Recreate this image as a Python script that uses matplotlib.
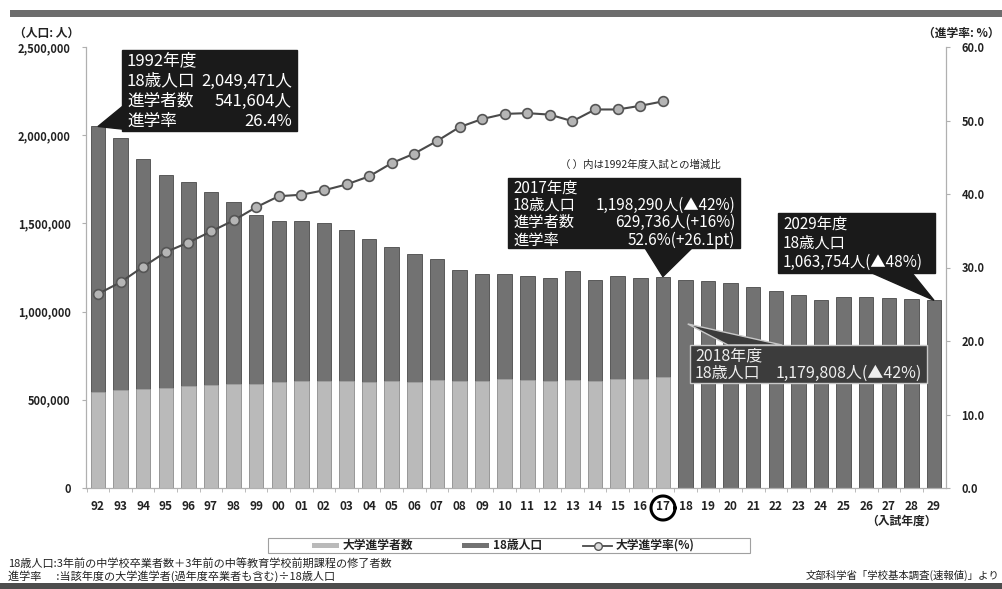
import matplotlib
matplotlib.use('Agg')
import matplotlib.pyplot as plt
import numpy as np
from matplotlib.patches import Polygon, Rectangle
from matplotlib.lines import Line2D

plt.rcParams['font.family'] = ['Noto Sans CJK JP', 'DejaVu Sans']

# 入試年度 (1992-2029)
years = ['92', '93', '94', '95', '96', '97', '98', '99', '00', '01',
         '02', '03', '04', '05', '06', '07', '08', '09', '10', '11',
         '12', '13', '14', '15', '16', '17', '18', '19', '20', '21',
         '22', '23', '24', '25', '26', '27', '28', '29']

# 18歳人口
pop18 = [2049471, 1981503, 1863870, 1773712, 1732437, 1680006, 1622198, 1545270,
         1510994, 1511845, 1502711, 1464760, 1410403, 1365471, 1325208, 1299571,
         1237294, 1211390, 1215843, 1202016, 1191357, 1230974, 1180838, 1199881,
         1190540, 1198290, 1179808, 1172000, 1160000, 1137000, 1114000, 1093000,
         1063000, 1084000, 1084000, 1076000, 1071000, 1063754]

# 大学進学者数 (1992-2017)
entrants = [541604, 554973, 560815, 568576, 579148, 586688, 590743, 589559,
            599655, 603953, 609337, 604785, 598331, 603760, 603054, 613613,
            607159, 608731, 619119, 612858, 605390, 614183, 608247, 617507,
            618423, 629736]

# 大学進学率 (%)
rate = [26.4, 28.0, 30.1, 32.1, 33.4, 34.9, 36.4, 38.2, 39.7, 39.9,
        40.5, 41.3, 42.4, 44.2, 45.5, 47.2, 49.1, 50.2, 50.9, 51.0,
        50.8, 49.9, 51.5, 51.5, 52.0, 52.6]

W, H = 1002, 589
fig = plt.figure(figsize=(W / 100, H / 100), dpi=100)
fig.patch.set_facecolor('white')
ax = fig.add_axes([86 / W, 1 - 488 / H, (946 - 86) / W, (488 - 47) / H])
ax2 = ax.twinx()


def px(x, y):
    """pixel (from top-left) -> figure fraction"""
    return (x / W, 1 - y / H)


def data_to_fig(a, x, y):
    d = a.transData.transform((x, y))
    return tuple(fig.transFigure.inverted().transform(d))


dark = '#727272'
light = '#bababa'
line_c = '#4a4a4a'
txt_c = '#222222'
xs = list(range(len(years)))
ax.bar(xs, pop18, width=0.64, color=dark, edgecolor='#4a4a4a', linewidth=0.6, zorder=2)
ax.bar(xs[:len(entrants)], entrants, width=0.64, color=light, edgecolor='#a5a5a5',
       linewidth=0.4, zorder=3)
ax.set_ylim(0, 2500000)
ax.set_xlim(-0.53, len(years) - 1 + 0.53)

ax2.plot(xs[:len(rate)], rate, color=line_c, lw=1.5, marker='o', ms=7,
         mfc='#b5b5b5', mec='#555555', mew=1.2, zorder=5)
ax2.set_ylim(0, 60)
ax.set_zorder(1)
ax2.set_zorder(2)
ax.patch.set_visible(False)

# axes styling
for a in (ax, ax2):
    a.spines['top'].set_visible(False)
    for s in ('left', 'right', 'bottom'):
        a.spines[s].set_color('#b0b0b0')
        a.spines[s].set_linewidth(0.8)

ax.set_yticks(range(0, 2500001, 500000))
ax.set_yticklabels([f'{v:,}' for v in range(0, 2500001, 500000)],
                   fontsize=8, fontweight='bold', color=txt_c)
ax.tick_params(axis='y', length=3, color='#b0b0b0', pad=8)
ax2.set_yticks(range(0, 61, 10))
ax2.set_yticklabels([f'{v:.1f}' for v in range(0, 61, 10)],
                    fontsize=8, fontweight='bold', color=txt_c)
ax2.tick_params(axis='y', length=3, color='#b0b0b0', pad=8)

ax.set_xticks(xs)
ax.set_xticklabels(years, fontsize=8.5, fontweight='bold', color=txt_c)
ax.set_xticks([i + 0.5 for i in xs[:-1]] + [-0.5], minor=True)
ax.tick_params(axis='x', which='major', length=0, pad=9)
ax.tick_params(axis='x', which='minor', length=3, color='#b0b0b0')

# ring around "17"
cx, cy = 663, 508
t = np.linspace(0, 2 * np.pi, 100)
fig.add_artist(Line2D((cx + 12 * np.cos(t)) / W, 1 - (cy + 12 * np.sin(t)) / H,
                      transform=fig.transFigure, color='black', lw=2.2))

# axis titles
fig.text(*px(14, 33), '（人口: 人）', fontsize=8.5, fontweight='bold', va='center', color=txt_c)
fig.text(*px(1000, 33), '（進学率: %）', fontsize=8.5, fontweight='bold', va='center',
         ha='right', color=txt_c)
fig.text(*px(937, 521), '（入試年度）', fontsize=8.5, fontweight='bold', va='center', ha='right',
         color=txt_c)

# top / bottom bands
fig.add_artist(Rectangle(px(10, 17), (W - 10) / W, 7 / H, transform=fig.transFigure,
                         color='#6d6d6d', lw=0))
fig.add_artist(Rectangle(px(0, 589), 1, 6 / H, transform=fig.transFigure,
                         color='#4d4d4d', lw=0))


def callout(box, tip, base, lines, fc='#1a1a1a', ec='#1a1a1a', tc='white', fs=11.5,
            lh=19.5, y0=10):
    x0, y_top, x1, y_bot = box
    poly = [px(*base[0]), tip, px(*base[1])]
    fig.add_artist(Polygon(poly, closed=True, transform=fig.transFigure, fc=fc, ec=ec, lw=1,
                           zorder=10))
    fig.add_artist(Rectangle(px(x0, y_bot), (x1 - x0) / W, (y_bot - y_top) / H,
                             transform=fig.transFigure, fc=fc, ec=ec, lw=1, zorder=11))
    y = y_top + y0
    for left, val in lines:
        fig.text(*px(x0 + 5, y), left, color=tc, fontsize=fs, va='center', ha='left', zorder=12)
        if val:
            fig.text(*px(x1 - 5, y), val, color=tc, fontsize=fs, va='center', ha='right',
                     zorder=12)
        y += lh


# 1992
callout((122, 50, 297, 131), data_to_fig(ax, 0, pop18[0]), [(123, 106), (140, 131)],
        [('1992年度', ''), ('18歳人口', f'{pop18[0]:,}人'), ('進学者数', f'{entrants[0]:,}人'),
         ('進学率', f'{rate[0]}%')], fs=12, lh=20, y0=11)

# 2017
i17 = years.index('17')
fig.text(*px(560, 165), '（ ）内は1992年度入試との増減比', fontsize=7.5, va='center',
         color=txt_c)
callout((508, 178, 740, 248), data_to_fig(ax, i17, pop18[i17]), [(645, 248), (692, 248)],
        [('2017年度', ''), ('18歳人口', f'{pop18[i17]:,}人(▲42%)'),
         ('進学者数', f'{entrants[i17]:,}人(+16%)'), ('進学率', f'{rate[i17]}%(+26.1pt)')],
        fs=11, lh=17.3, y0=10)

# 2029
i29 = years.index('29')
callout((778, 213, 935, 273), data_to_fig(ax, i29, pop18[i29]), [(872, 273), (912, 273)],
        [('2029年度', ''), ('18歳人口', ''), (f'{pop18[i29]:,}人(▲48%)', '')],
        fs=11, lh=19, y0=11)

# 2018
i18 = years.index('18')
callout((690, 345, 927, 383), data_to_fig(ax, i18 + 0.1, 930000), [(728, 345), (782, 345)],
        [('2018年度', ''), ('18歳人口', f'{pop18[i18]:,}人(▲42%)')],
        fc='#3c3c3c', ec='#c8c8c8', tc='#eeeeee', fs=11.5, lh=17, y0=11)

# legend (drawn by hand so the entries sit where they should)
fig.add_artist(Rectangle(px(268, 553), 482 / W, 15 / H, transform=fig.transFigure,
                         fc='white', ec='#a0a0a0', lw=0.8))
ly = 545.5
fig.add_artist(Rectangle(px(312, ly + 2.5), 27 / W, 5 / H, transform=fig.transFigure,
                         color=light, lw=0))
fig.text(*px(343, ly), '大学進学者数', fontsize=8.5, fontweight='bold', va='center', color=txt_c)
fig.add_artist(Rectangle(px(462, ly + 2.5), 27 / W, 5 / H, transform=fig.transFigure,
                         color=dark, lw=0))
fig.text(*px(493, ly), '18歳人口', fontsize=8.5, fontweight='bold', va='center', color=txt_c)
fig.add_artist(Line2D([583 / W, 612 / W], [px(0, ly)[1]] * 2, transform=fig.transFigure,
                      color=line_c, lw=1.3))
fig.add_artist(Line2D([597.5 / W], [px(0, ly)[1]], transform=fig.transFigure, marker='o',
                      ms=5.5, mfc='#dddddd', mec='#555555', mew=1))
fig.text(*px(616, ly), '大学進学率(%)', fontsize=8.5, fontweight='bold', va='center',
         color=txt_c)

# footnotes
fig.text(*px(8, 563), '18歳人口:3年前の中学校卒業者数＋3年前の中等教育学校前期課程の修了者数',
         fontsize=8, va='center', color=txt_c)
fig.text(*px(8, 576), '進学率      :当該年度の大学進学者(過年度卒業者も含む)÷18歳人口',
         fontsize=8, va='center', color=txt_c)
fig.text(*px(999, 575), '文部科学省「学校基本調査(速報値)」より', fontsize=7.5, va='center',
         ha='right', color=txt_c)

fig.savefig('out.png', dpi=100, facecolor='white')
